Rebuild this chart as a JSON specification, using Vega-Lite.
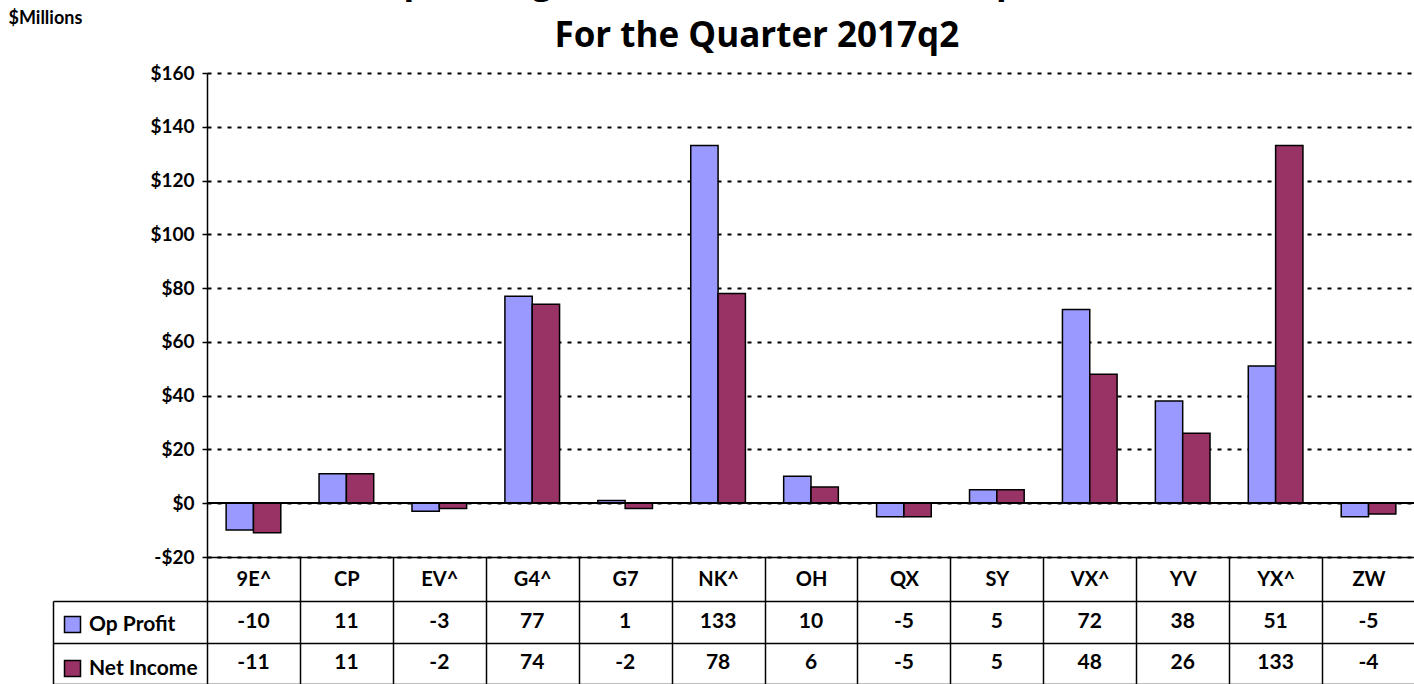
{
  "$schema": "https://vega.github.io/schema/vega-lite/v6.json",
  "background": "white",
  "padding": {"left": 8, "top": -35, "right": 0, "bottom": 0},
  "title": {
    "text": ["Operating Profit and Net Income (Op Profit)", "For the Quarter 2017q2"],
    "font": "Open Sans",
    "fontSize": 35,
    "fontWeight": "bold",
    "color": "black",
    "anchor": "middle",
    "frame": "bounds",
    "dx": 45,
    "offset": -45,
    "lineHeight": 54
  },
  "data": {
    "values": [
      {"company": "9E^", "series": "Op Profit", "value": -10},
      {"company": "9E^", "series": "Net Income", "value": -11},
      {"company": "CP", "series": "Op Profit", "value": 11},
      {"company": "CP", "series": "Net Income", "value": 11},
      {"company": "EV^", "series": "Op Profit", "value": -3},
      {"company": "EV^", "series": "Net Income", "value": -2},
      {"company": "G4^", "series": "Op Profit", "value": 77},
      {"company": "G4^", "series": "Net Income", "value": 74},
      {"company": "G7", "series": "Op Profit", "value": 1},
      {"company": "G7", "series": "Net Income", "value": -2},
      {"company": "NK^", "series": "Op Profit", "value": 133},
      {"company": "NK^", "series": "Net Income", "value": 78},
      {"company": "OH", "series": "Op Profit", "value": 10},
      {"company": "OH", "series": "Net Income", "value": 6},
      {"company": "QX", "series": "Op Profit", "value": -5},
      {"company": "QX", "series": "Net Income", "value": -5},
      {"company": "SY", "series": "Op Profit", "value": 5},
      {"company": "SY", "series": "Net Income", "value": 5},
      {"company": "VX^", "series": "Op Profit", "value": 72},
      {"company": "VX^", "series": "Net Income", "value": 48},
      {"company": "YV", "series": "Op Profit", "value": 38},
      {"company": "YV", "series": "Net Income", "value": 26},
      {"company": "YX^", "series": "Op Profit", "value": 51},
      {"company": "YX^", "series": "Net Income", "value": 133},
      {"company": "ZW", "series": "Op Profit", "value": -5},
      {"company": "ZW", "series": "Net Income", "value": -4}
    ]
  },
  "bounds": "flush",
  "spacing": 44,
  "resolve": {"legend": {"color": "independent"}},
  "vconcat": [
    {
      "width": 1208,
      "height": 484,
      "layer": [
        {
          "mark": {"type": "bar", "stroke": "black", "strokeWidth": 1.5},
          "encoding": {
            "x": {
              "field": "company",
              "type": "nominal",
              "sort": ["9E^", "CP", "EV^", "G4^", "G7", "NK^", "OH", "QX", "SY", "VX^", "YV", "YX^", "ZW"],
              "scale": {"paddingInner": 0, "paddingOuter": 0},
              "axis": {
                "title": null,
                "orient": "bottom",
                "tickBand": "extent",
                "tickSize": 44,
                "tickColor": "black",
                "tickWidth": 1.5,
                "labelAngle": 0,
                "labelFont": "Lato",
                "labelFontSize": 20,
                "labelFontWeight": "bold",
                "labelColor": "black",
                "labelPadding": -22,
                "labelBaseline": "middle",
                "domainColor": "black",
                "domainWidth": 1.5,
                "grid": false
              }
            },
            "xOffset": {
              "field": "series",
              "type": "nominal",
              "sort": ["Op Profit", "Net Income"],
              "scale": {"paddingInner": 0, "paddingOuter": 0.7}
            },
            "y": {
              "field": "value",
              "type": "quantitative",
              "scale": {"domain": [-20, 160], "nice": false, "zero": false},
              "axis": {
                "title": "$Millions",
                "titleAngle": 0,
                "titleAlign": "left",
                "titleBaseline": "top",
                "titleX": -199,
                "titleY": -64,
                "titleFont": "Lato",
                "titleFontSize": 18,
                "titleFontWeight": "bold",
                "titleColor": "black",
                "values": [-20, 0, 20, 40, 60, 80, 100, 120, 140, 160],
                "labelExpr": "datum.value < 0 ? '-$' + abs(datum.value) : '$' + datum.value",
                "labelFont": "Lato",
                "labelFontSize": 19,
                "labelFontWeight": "bold",
                "labelColor": "black",
                "labelPadding": 8,
                "tickSize": 5,
                "tickColor": "black",
                "tickWidth": 1.5,
                "domainColor": "black",
                "domainWidth": 1.5,
                "grid": true,
                "gridColor": "black",
                "gridDash": [4, 6],
                "gridWidth": 2
              }
            },
            "color": {
              "field": "series",
              "type": "nominal",
              "scale": {"domain": ["Op Profit", "Net Income"], "range": ["#9999FF", "#993366"]},
              "legend": {
                "title": null,
                "orient": "none",
                "legendX": -145,
                "legendY": 541,
                "padding": 0,
                "symbolType": "square",
                "symbolSize": 256,
                "symbolStrokeColor": "black",
                "symbolStrokeWidth": 1.5,
                "symbolOffset": 0,
                "labelOffset": 6,
                "labelFont": "Lato",
                "labelFontSize": 21,
                "labelFontWeight": "bold",
                "labelColor": "black",
                "rowPadding": 21
              }
            }
          }
        },
        {
          "mark": {"type": "rule", "color": "black", "strokeWidth": 1.5},
          "encoding": {"y": {"datum": 0}}
        }
      ]
    },
    {
      "width": 1208,
      "height": 83,
      "mark": {"type": "text", "font": "Lato", "fontSize": 21, "fontWeight": "bold", "color": "black", "baseline": "middle"},
      "encoding": {
        "x": {
          "field": "company",
          "type": "nominal",
          "sort": ["9E^", "CP", "EV^", "G4^", "G7", "NK^", "OH", "QX", "SY", "VX^", "YV", "YX^", "ZW"],
          "scale": {"type": "band", "paddingInner": 0, "paddingOuter": 0},
          "axis": {
            "title": null,
            "orient": "bottom",
            "labels": false,
            "ticks": false,
            "domain": false,
            "grid": true,
            "tickBand": "extent",
            "gridColor": "black",
            "gridWidth": 1.5
          }
        },
        "y": {
          "field": "series",
          "type": "nominal",
          "sort": ["Op Profit", "Net Income"],
          "scale": {"type": "band", "paddingInner": 0, "paddingOuter": 0},
          "axis": {
            "title": null,
            "orient": "left",
            "offset": 154,
            "labels": false,
            "ticks": true,
            "tickBand": "extent",
            "tickSize": -154,
            "tickColor": "black",
            "tickWidth": 1.5,
            "domain": true,
            "domainColor": "black",
            "domainWidth": 1.5,
            "grid": true,
            "gridColor": "black",
            "gridWidth": 1.5
          }
        },
        "text": {"field": "value", "type": "nominal"}
      }
    }
  ],
  "config": {
    "view": {"stroke": null},
    "font": "Lato"
  }
}
